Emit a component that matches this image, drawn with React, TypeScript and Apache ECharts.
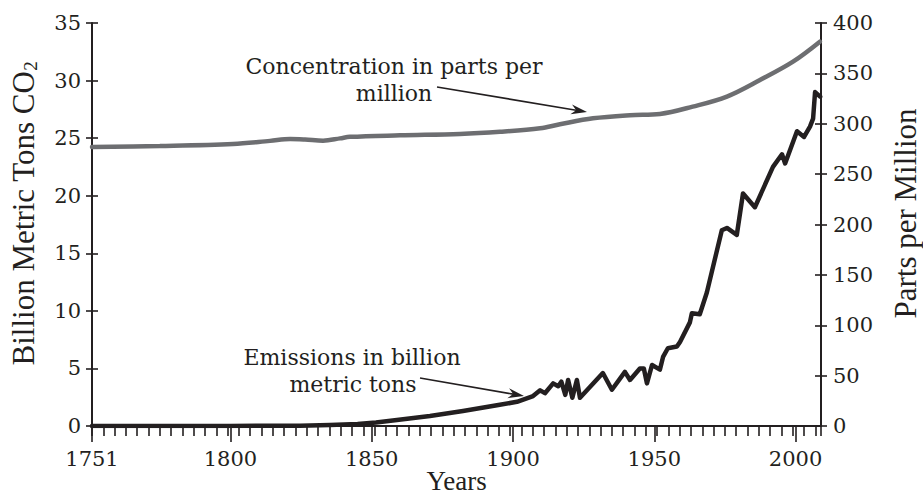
import React, { useEffect, useRef } from "react";
import * as echarts from "echarts";

// ---- Data ----
const concentrationYears = [1751, 1775, 1800.9, 1814, 1821.1, 1826.4, 1832.8, 1838.8, 1842.3, 1860, 1881.2, 1895.4, 1909.6, 1916.6, 1928.3, 1941.4, 1952, 1963.6, 1975.7, 1987.4, 1999.1, 2008.6];
const concentrationPpm = [277, 278, 280, 283, 284.8, 284.3, 283.2, 285.5, 287, 288.5, 289.8, 292, 295.5, 299.5, 305.4, 308.5, 309.7, 317, 327, 343.4, 361.6, 381.4];

const emissionYears = [1751, 1800, 1824.6, 1835.2, 1845, 1851.5, 1858.9, 1870.6, 1882.3, 1894.3, 1901.4, 1907.1, 1909.6, 1911.3, 1914.2, 1916.0, 1917.1, 1918.5, 1919.5, 1921.0, 1922.6, 1923.7, 1931.8, 1935.0, 1939.6, 1941.4, 1944.9, 1946.3, 1947.4, 1949.2, 1952.0, 1953.1, 1954.8, 1958.0, 1959.1, 1962.6, 1963.3, 1966.1, 1968.6, 1973.9, 1975.7, 1979.2, 1981.4, 1985.6, 1992.0, 1995.2, 1996.3, 2000.5, 2003.0, 2005.1, 2006.2, 2006.9, 2008.7];
const emissionBillionTons = [0, 0.01, 0.03, 0.09, 0.18, 0.3, 0.52, 0.87, 1.3, 1.8, 2.1, 2.6, 3.1, 2.85, 3.7, 3.45, 3.85, 2.7, 4.0, 2.45, 4.0, 2.45, 4.6, 3.15, 4.7, 4.0, 5.0, 5.0, 3.7, 5.3, 4.9, 6.0, 6.75, 6.9, 7.3, 9.0, 9.8, 9.7, 11.6, 17.0, 17.2, 16.6, 20.2, 19.0, 22.5, 23.6, 22.8, 25.6, 25.1, 26.0, 26.7, 29.0, 28.6];

const xLabelYears = [1751, 1800, 1850, 1900, 1950, 2000];
const leftAxisMax = 35;
const rightAxisMax = 400;

const INK = "#231f20";
const GREY = "#6d6e71";
const SERIF = '"Liberation Serif", "DejaVu Serif", serif';
const DIGITS = '"DejaVu Serif", "Liberation Serif", serif';

function arrow(x1: number, y1: number, x2: number, y2: number) {
  const dx = x2 - x1, dy = y2 - y1;
  const d = Math.sqrt(dx * dx + dy * dy);
  const ux = dx / d, uy = dy / d;
  const px = -uy, py = ux;
  const len = 16, half = 5, notch = 5;
  const bx = x2 - ux * len, by = y2 - uy * len;
  const nx = x2 - ux * (len - notch), ny = y2 - uy * (len - notch);
  return [
    { type: "line", shape: { x1, y1, x2: nx, y2: ny }, style: { stroke: INK, lineWidth: 1.6 }, silent: true },
    {
      type: "polygon",
      shape: { points: [[x2, y2], [bx + px * half, by + py * half], [nx, ny], [bx - px * half, by - py * half]] },
      style: { fill: INK }, silent: true,
    },
  ];
}

export default function App() {
  const ref = useRef<HTMLDivElement>(null);
  useEffect(() => {
    if (!ref.current) return;
    document.body.style.margin = "0";
    const chart = echarts.init(ref.current, undefined, { renderer: "svg", width: 923, height: 495 });
    const tickLine = { color: INK, width: 1.6 };
    const axisLine = { show: true, onZero: false, lineStyle: { color: INK, width: 2 } };
    const titleStyle = { fontFamily: SERIF, fontSize: 28, color: INK };
    const note = (t: string, x: number, y: number) => ({
      type: "text", x, y,
      style: { text: t, font: `22px ${DIGITS}`, fill: INK, textAlign: "center", textVerticalAlign: "middle" },
    });
    chart.setOption({
      animation: false,
      backgroundColor: "#ffffff",
      grid: { left: 92, right: 102, top: 23, bottom: 69, containLabel: false, outerBoundsMode: "none" },
      xAxis: [
        {
          type: "value", min: 1751, max: 2009, position: "bottom",
          axisLine,
          axisTick: { show: true, customValues: xLabelYears, length: 16, lineStyle: tickLine },
          axisLabel: {
            customValues: xLabelYears, margin: 22, fontFamily: DIGITS, fontSize: 21, color: INK,
            showMinLabel: true, showMaxLabel: true, formatter: (v: number) => String(Math.round(v)),
          },
          splitLine: { show: false },
          name: "Years", nameLocation: "middle", nameGap: 41, nameMoveOverlap: false,
          nameTextStyle: { ...titleStyle, fontSize: 27 },
        },
        {
          type: "value", min: 1751, max: 2009, interval: 4, position: "bottom",
          axisLine: { show: false },
          axisTick: { show: true, length: 10, lineStyle: tickLine },
          axisLabel: { show: false },
          splitLine: { show: false },
        },
      ],
      yAxis: [
        {
          type: "value", position: "left", min: 0, max: leftAxisMax, interval: 5,
          axisLine, axisTick: { show: true, length: 6, lineStyle: tickLine },
          axisLabel: { margin: 11, fontFamily: DIGITS, fontSize: 21, color: INK },
          splitLine: { show: false },
          name: "Billion Metric Tons CO{sub|2}", nameLocation: "middle", nameGap: 52, nameMoveOverlap: false,
          nameTextStyle: {
            ...titleStyle, fontSize: 31, padding: [0, 0, 0, 22],
            rich: { sub: { fontFamily: SERIF, fontSize: 19, color: INK, padding: [15, 0, 0, 0] } },
          },
        },
        {
          type: "value", position: "right", min: 0, max: rightAxisMax, interval: 50,
          axisLine, axisTick: { show: true, length: 6, lineStyle: tickLine },
          axisLabel: { margin: 12, fontFamily: DIGITS, fontSize: 21, color: INK },
          splitLine: { show: false },
          name: "Parts per Million", nameLocation: "middle", nameGap: 69, nameMoveOverlap: false,
          nameTextStyle: { ...titleStyle, fontSize: 31, padding: [0, 0, 0, 22] },
        },
        {
          type: "value", position: "left", min: 0, max: leftAxisMax, interval: 5,
          axisLine: { show: false }, axisTick: { show: true, inside: true, length: 6, lineStyle: tickLine },
          axisLabel: { show: false }, splitLine: { show: false },
        },
        {
          type: "value", position: "right", min: 0, max: rightAxisMax, interval: 50,
          axisLine: { show: false }, axisTick: { show: true, inside: true, length: 6, lineStyle: tickLine },
          axisLabel: { show: false }, splitLine: { show: false },
        },
      ],
      series: [
        {
          name: "Concentration in parts per million", type: "line", xAxisIndex: 0, yAxisIndex: 1,
          data: concentrationYears.map((y, i) => [y, concentrationPpm[i]]),
          smooth: 0.35, showSymbol: false, lineStyle: { color: GREY, width: 4.5, cap: "round" },
        },
        {
          name: "Emissions in billion metric tons", type: "line", xAxisIndex: 0, yAxisIndex: 0,
          data: emissionYears.map((y, i) => [y, emissionBillionTons[i]]),
          showSymbol: false, lineStyle: { color: INK, width: 4.5, join: "round", cap: "round" },
        },
      ],
      graphic: [
        note("Concentration in parts per", 394, 66),
        note("million", 394, 93),
        note("Emissions in billion", 352, 357),
        note("metric tons", 353, 384),
        ...arrow(437, 87, 587, 112),
        ...arrow(420, 378, 524, 396),
      ],
    });
    return () => chart.dispose();
  }, []);
  return <div ref={ref} style={{ position: "fixed", left: 0, top: 0, width: 923, height: 495, background: "#fff" }} />;
}
